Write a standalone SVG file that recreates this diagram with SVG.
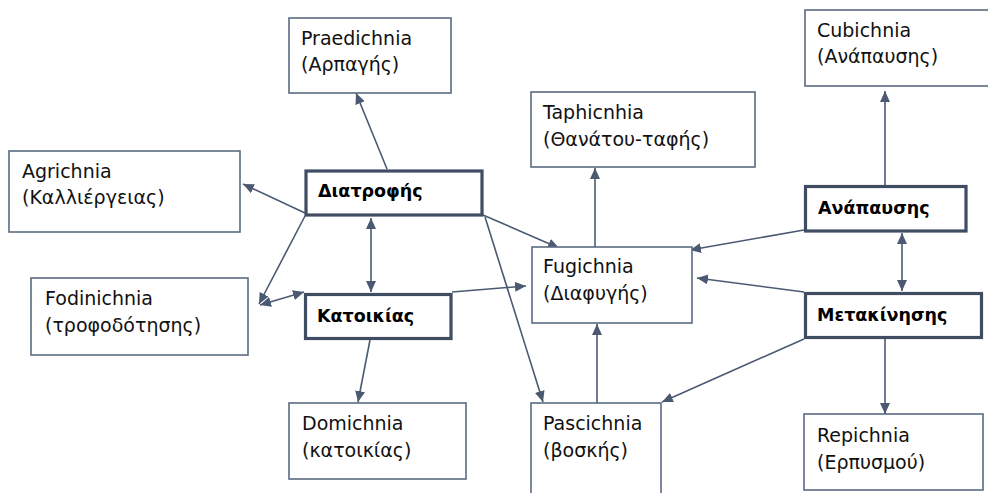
<svg xmlns="http://www.w3.org/2000/svg" width="988" height="493" viewBox="0 0 988 493">
  <style>
    .box { fill: #ffffff; stroke: #5b6b82; stroke-width: 1.6; }
    .cat { fill: #ffffff; stroke: #3f4c62; stroke-width: 3.2; }
    .lbl { font-family: "DejaVu Sans", "Noto Sans", sans-serif; font-size: 19px; fill: #111111; }
    .cat-lbl { font-family: "DejaVu Sans", "Noto Sans", sans-serif; font-size: 17.5px; font-weight: bold; fill: #000000; }
    .conn { fill: none; stroke: #4b5a72; stroke-width: 1.6; }
  </style>
  <defs>
    <marker id="arrow" markerUnits="userSpaceOnUse" markerWidth="12" markerHeight="10" viewBox="0 0 12 10" refX="11" refY="5" orient="auto-start-reverse">
      <path d="M0,0 L11,5 L0,10 Z" fill="#4b5a72"/>
    </marker>
  </defs>

  <rect width="988" height="493" fill="#ffffff"/>

  <!-- connectors -->
  <g id="connectors">
    <line class="conn" x1="387" y1="169" x2="356" y2="93" marker-end="url(#arrow)"/>
    <line class="conn" x1="305" y1="213" x2="243" y2="184" marker-end="url(#arrow)"/>
    <line class="conn" x1="305" y1="216" x2="259" y2="304" marker-end="url(#arrow)"/>
    <line class="conn" x1="260" y1="305" x2="304" y2="292" marker-start="url(#arrow)" marker-end="url(#arrow)"/>
    <line class="conn" x1="371" y1="218" x2="371" y2="292" marker-start="url(#arrow)" marker-end="url(#arrow)"/>
    <line class="conn" x1="370" y1="340" x2="358" y2="402" marker-end="url(#arrow)"/>
    <line class="conn" x1="452" y1="292" x2="526" y2="286" marker-end="url(#arrow)"/>
    <line class="conn" x1="483" y1="215" x2="559" y2="248" marker-end="url(#arrow)"/>
    <line class="conn" x1="485" y1="217" x2="543" y2="402" marker-end="url(#arrow)"/>
    <line class="conn" x1="595" y1="262" x2="595" y2="168" marker-end="url(#arrow)"/>
    <line class="conn" x1="597" y1="415" x2="597" y2="324" marker-end="url(#arrow)"/>
    <line class="conn" x1="804" y1="230" x2="690" y2="250" marker-end="url(#arrow)"/>
    <line class="conn" x1="804" y1="292" x2="697" y2="278" marker-end="url(#arrow)"/>
    <line class="conn" x1="804" y1="339" x2="662" y2="402" marker-end="url(#arrow)"/>
    <line class="conn" x1="885" y1="185" x2="885" y2="91" marker-end="url(#arrow)"/>
    <line class="conn" x1="902" y1="233" x2="902" y2="291" marker-start="url(#arrow)" marker-end="url(#arrow)"/>
    <line class="conn" x1="885" y1="339" x2="885" y2="414" marker-end="url(#arrow)"/>
  </g>

  <!-- trace-type boxes -->
  <g id="praedichnia">
    <rect class="box" x="289" y="18" width="162" height="75"/>
    <text class="lbl" x="301" y="45">Praedichnia</text>
    <text class="lbl" x="301" y="71">(Αρπαγής)</text>
  </g>
  <g id="agrichnia">
    <rect class="box" x="9" y="151" width="231" height="81"/>
    <text class="lbl" x="22" y="178">Agrichnia</text>
    <text class="lbl" x="22" y="204">(Καλλιέργειας)</text>
  </g>
  <g id="cubichnia">
    <rect class="box" x="805" y="10" width="190" height="76"/>
    <text class="lbl" x="817" y="37">Cubichnia</text>
    <text class="lbl" x="817" y="63">(Ανάπαυσης)</text>
  </g>
  <g id="taphichnia">
    <rect class="box" x="531" y="92" width="224" height="75"/>
    <text class="lbl" x="543" y="119">Taphicnhia</text>
    <text class="lbl" x="543" y="146">(Θανάτου-ταφής)</text>
  </g>
  <g id="fodinichnia">
    <rect class="box" x="31" y="278" width="217" height="77"/>
    <text class="lbl" x="45" y="305">Fodinichnia</text>
    <text class="lbl" x="45" y="332">(τροφοδότησης)</text>
  </g>
  <g id="fugichnia">
    <rect class="box" x="532" y="247" width="160" height="76"/>
    <text class="lbl" x="543" y="273">Fugichnia</text>
    <text class="lbl" x="543" y="300">(Διαφυγής)</text>
  </g>
  <g id="domichnia">
    <rect class="box" x="289" y="403" width="177" height="76"/>
    <text class="lbl" x="302" y="430">Domichnia</text>
    <text class="lbl" x="302" y="457">(κατοικίας)</text>
  </g>
  <g id="pascichnia">
    <rect class="box" x="531" y="403" width="130" height="100"/>
    <text class="lbl" x="543" y="430">Pascichnia</text>
    <text class="lbl" x="543" y="457">(βοσκής)</text>
  </g>
  <g id="repichnia">
    <rect class="box" x="804" y="414" width="179" height="76"/>
    <text class="lbl" x="817" y="442">Repichnia</text>
    <text class="lbl" x="817" y="469">(Ερπυσμού)</text>
  </g>

  <!-- behaviour categories -->
  <g id="diatrofis">
    <rect class="cat" x="306" y="171" width="176" height="44"/>
    <text class="cat-lbl" x="318" y="197">Διατροφής</text>
  </g>
  <g id="katoikias">
    <rect class="cat" x="305.5" y="294.5" width="145.5" height="44"/>
    <text class="cat-lbl" x="317" y="322">Κατοικίας</text>
  </g>
  <g id="anapafsis">
    <rect class="cat" x="805.5" y="186.5" width="160.5" height="44.5"/>
    <text class="cat-lbl" x="818" y="214">Ανάπαυσης</text>
  </g>
  <g id="metakinisis">
    <rect class="cat" x="805.5" y="293.5" width="176" height="44"/>
    <text class="cat-lbl" x="817" y="321">Μετακίνησης</text>
  </g>
</svg>
